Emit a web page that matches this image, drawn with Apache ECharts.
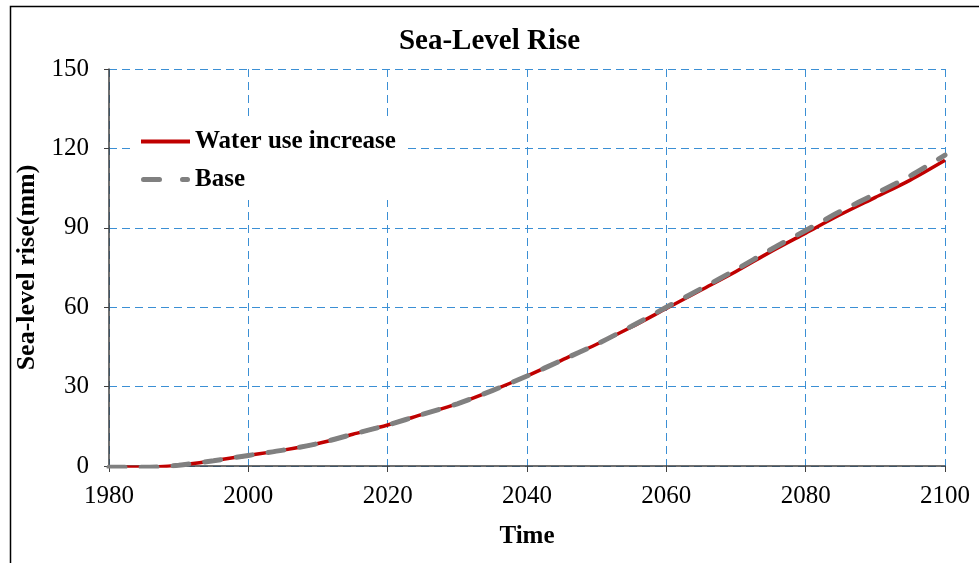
<!DOCTYPE html>
<html>
<head>
<meta charset="utf-8">
<script src="https://cdn.jsdelivr.net/npm/echarts@6/dist/echarts.min.js"></script>
<style>
html,body{margin:0;padding:0;background:#fff;}
#chart{width:979px;height:563px;}
</style>
</head>
<body>
<div id="chart"></div>
<script>
// Simulated sea-level rise (mm), 5-year steps
const years = [1980, 1985, 1990, 1995, 2000, 2005, 2010, 2015, 2020, 2025, 2030, 2035, 2040, 2045, 2050, 2055, 2060, 2065, 2070, 2075, 2080, 2085, 2090, 2095, 2100];
const waterUseIncrease = [-0.5, -0.5, 0.3, 2.0, 4.0, 6.0, 8.5, 12.0, 15.5, 19.5, 23.5, 28.5, 34.0, 40.0, 46.0, 52.5, 59.5, 66.5, 73.5, 81.0, 88.0, 95.0, 101.5, 108.0, 115.5];
const base = [-0.5, -0.5, 0.3, 2.0, 4.0, 6.0, 8.5, 12.0, 15.5, 19.5, 23.5, 28.5, 34.0, 40.0, 46.0, 52.8, 60.0, 67.0, 74.2, 81.8, 89.0, 96.2, 102.8, 109.6, 117.5];
const seriesNames = ['Water use increase', 'Base'];

const font = 'Liberation Serif, Times New Roman, serif';
const pair = (xs, ys) => xs.map((x, i) => [x, ys[i]]);

// legend keys: solid stroke and two-dash stroke
const solidKey = 'path://M0,0.5 h49 v4 h-49 z';
const dashKey = 'path://M2.5,0 h16 a2.5,2.5 0 0 1 0,5 h-16 a2.5,2.5 0 0 1 0,-5 z M41.5,0 h5 a2.5,2.5 0 0 1 0,5 h-5 a2.5,2.5 0 0 1 0,-5 z';

const chart = echarts.init(document.getElementById('chart'), null, {renderer: 'canvas'});
chart.setOption({
  backgroundColor: '#fff',
  animation: false,
  title: {
    text: 'Sea-Level Rise',
    left: 'center',
    top: 22,
    textStyle: {fontFamily: font, fontSize: 29, fontWeight: 'bold', color: '#000'}
  },
  graphic: [{
    type: 'rect',
    shape: {x: 10.5, y: 6.5, width: 1000, height: 600},
    style: {fill: 'none', stroke: '#000', lineWidth: 1.5},
    silent: true
  }],
  legend: {
    orient: 'vertical',
    left: 135,
    top: 121,
    itemGap: 13,
    itemWidth: 49,
    itemHeight: 5,
    padding: [8, 10, 8, 6],
    backgroundColor: '#fff',
    textStyle: {fontFamily: font, fontSize: 25, fontWeight: 'bold', color: '#000', lineHeight: 25},
    data: [
      {name: seriesNames[0], icon: solidKey, itemStyle: {color: '#c00000'}},
      {name: seriesNames[1], icon: dashKey, itemStyle: {color: '#808080'}}
    ]
  },
  grid: {left: 109, right: 34, top: 69, bottom: 97, containLabel: false},
  xAxis: {
    type: 'value',
    min: 1980,
    max: 2100,
    interval: 20,
    name: 'Time',
    nameLocation: 'middle',
    nameGap: 58,
    nameTextStyle: {fontFamily: font, fontSize: 25, fontWeight: 'bold', color: '#000'},
    axisLine: {show: true, lineStyle: {color: '#404040', width: 1.5}},
    axisTick: {show: true, length: 6, lineStyle: {color: '#404040'}},
    axisLabel: {fontFamily: font, fontSize: 25, color: '#000', margin: 18, formatter: v => String(v)},
    splitLine: {show: true, lineStyle: {color: '#3b8fd4', type: [8, 5], width: 1}}
  },
  yAxis: {
    type: 'value',
    min: 0,
    max: 150,
    interval: 30,
    name: 'Sea-level rise(mm)',
    nameLocation: 'middle',
    nameGap: 66,
    nameTextStyle: {fontFamily: font, fontSize: 26, fontWeight: 'bold', color: '#000'},
    axisLine: {show: true, lineStyle: {color: '#404040', width: 1.5}},
    axisTick: {show: true, length: 5, lineStyle: {color: '#404040'}},
    axisLabel: {fontFamily: font, fontSize: 25, color: '#000', margin: 20},
    splitLine: {show: true, lineStyle: {color: '#3b8fd4', type: [8, 5], width: 1}}
  },
  series: [
    {
      name: seriesNames[0],
      type: 'line',
      data: pair(years, waterUseIncrease),
      smooth: 0.3,
      symbol: 'none',
      lineStyle: {color: '#c00000', width: 3.5},
      itemStyle: {color: '#c00000'},
      z: 2
    },
    {
      name: seriesNames[1],
      type: 'line',
      data: pair(years, base),
      smooth: 0.3,
      symbol: 'none',
      lineStyle: {color: '#808080', width: 5, type: [16, 16], cap: 'round'},
      itemStyle: {color: '#808080'},
      z: 3
    }
  ]
});
</script>
</body>
</html>
